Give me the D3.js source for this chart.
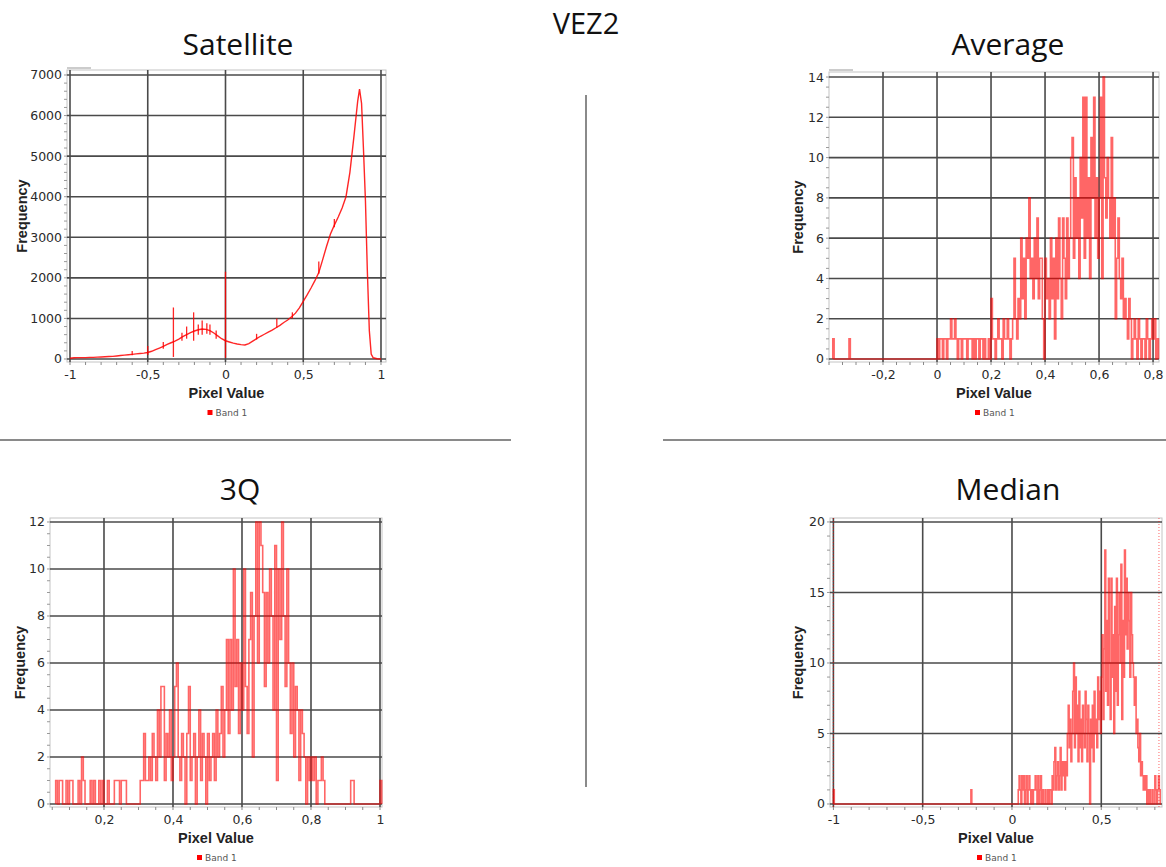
<!DOCTYPE html>
<html>
<head>
<meta charset="utf-8">
<script src="https://cdn.jsdelivr.net/npm/d3@7"></script>
<style>
  body { margin: 0; background: #fff; }
  svg { display: block; }
</style>
</head>
<body>
<svg id="chart" width="1166" height="867"></svg>
<script>
// ---------------- Satellite histogram (pixel value / frequency) ----------------
const satPixel = [
  -1.000, -0.975, -0.950, -0.925, -0.900, -0.875, -0.850, -0.825, -0.800, -0.775,
  -0.750, -0.725, -0.700, -0.675, -0.650, -0.625, -0.600, -0.575, -0.550, -0.525,
  -0.500, -0.475, -0.450, -0.425, -0.400, -0.375, -0.350, -0.325, -0.300, -0.275,
  -0.250, -0.225, -0.200, -0.175, -0.150, -0.125, -0.100, -0.075, -0.050, -0.025,
   0.000,  0.025,  0.050,  0.075,  0.100,  0.125,  0.150,  0.175,  0.200,  0.225,
   0.250,  0.275,  0.300,  0.325,  0.350,  0.375,  0.400,  0.425,  0.450,  0.475,
   0.500,  0.525,  0.550,  0.575,  0.600,  0.625,  0.650,  0.675,  0.700,  0.725,
   0.750,  0.775,  0.800,  0.825,  0.850,  0.862,  0.875,  0.887,  0.900,  0.912,
   0.925,  0.937,  0.950,  0.975,  1.000
];
const satFreq = [
    20,   30,   35,   35,   35,   40,   40,   45,   50,   55,
    60,   65,   75,   85,   95,  105,  115,  125,  135,  145,
   160,  190,  230,  270,  310,  360,  400,  440,  490,  550,
   600,  650,  690,  720,  740,  730,  700,  640,  570,  500,
   450,  420,  390,  370,  355,  345,  380,  440,  500,  560,
   610,  660,  710,  770,  830,  900,  960, 1040, 1130, 1260,
  1420, 1580, 1750, 1930, 2130, 2450, 2780, 3080, 3300, 3500,
  3720, 4000, 4600, 5450, 6350, 6650, 6300, 5200, 3900, 2200,
   700,  120,   30,    5,    0
];
// isolated spikes: pixel value, lower and upper frequency
const satSpikeX    = [-0.600, -0.500, -0.400, -0.335, -0.280, -0.250, -0.205, -0.175, -0.150, -0.120, -0.100, -0.060, 0.000, 0.200, 0.330, 0.430, 0.600, 0.700];
const satSpikeLow  = [    90,    100,    250,     50,    450,    500,    450,    600,    600,    620,    600,    500,    30,   480,   770,  1000,  2100,  3250];
const satSpikeHigh = [   200,    320,    420,   1270,    650,    800,   1150,    850,    950,    880,    850,    700,  2150,   620,  1000,  1150,  2400,  3450];
const satXTicks = [-1, -0.5, 0, 0.5, 1];
const satYTicks = [0, 1000, 2000, 3000, 4000, 5000, 6000, 7000];

// ---------------- Average ----------------
const avgStart = 0.0, avgStep = 0.005;
const avgCounts = [
  1,0,1,1,0,1,1,0,1,1,
  2,1,1,2,1,0,1,1,0,1,
  1,1,0,1,1,1,0,1,0,1,
  1,0,1,1,0,1,0,0,1,0,
  3,1,1,0,1,2,1,1,0,2,
  1,1,2,1,0,1,2,5,2,1,
  3,2,6,3,5,2,6,5,8,4,
  5,3,6,4,7,3,5,5,2,0,
  5,3,4,2,6,3,5,1,6,3,
  7,4,2,7,5,3,7,4,6,10,
  11,5,9,6,8,4,10,7,13,5,
  13,6,9,4,11,8,13,6,9,5,
  8,13,4,14,9,7,10,8,6,11,
  6,8,2,5,7,4,3,5,2,3,
  2,1,3,2,0,1,2,1,0,2,
  1,0,1,1,0,2,1,0,1,2,
  1,2,0,1
];
const avgIsolatedX = [-0.386, -0.326];
const avgIsolatedV = [1, 1];
const avgXTicks = [-0.2, 0, 0.2, 0.4, 0.6, 0.8];
const avgYTicks = [0, 2, 4, 6, 8, 10, 12, 14];

// ---------------- 3Q ----------------
const q3Start = 0.06, q3Step = 0.005;
const q3Counts = [
  1,0,1,1,0,0,1,0,1,1,
  0,0,0,1,0,2,1,0,0,0,
  1,0,1,0,0,1,0,1,0,0,
  1,0,0,0,1,1,1,0,1,1,
  1,0,0,0,0,0,0,0,0,1,
  1,3,1,1,2,1,3,2,1,4,
  2,5,5,1,3,2,4,1,2,5,
  6,2,1,3,2,0,3,5,1,2,
  3,0,2,4,1,3,2,0,3,1,
  2,3,1,4,2,3,5,2,4,7,
  3,7,4,10,5,7,3,6,4,10,
  5,3,7,9,2,8,12,6,12,11,
  9,5,9,6,10,8,4,11,1,10,
  7,12,8,5,10,6,3,6,2,5,
  4,1,4,3,2,0,2,1,2,1,
  2,0,1,1,2,1,0,0,0,0,
  0,0,0,0,0,0,0,0,0,0,
  0,1,1,0,0,0,0,0,0,0,
  0,0,0,0,0,0,0,0,1
];
const q3IsolatedX = [];
const q3IsolatedV = [];
const q3XTicks = [0.2, 0.4, 0.6, 0.8, 1];
const q3YTicks = [0, 2, 4, 6, 8, 10, 12];

// ---------------- Median ----------------
const medStart = 0.035, medStep = 0.005;
const medCounts = [
  1,2,1,0,2,1,2,0,1,2,
  0,1,2,1,0,1,0,1,1,2,
  1,0,2,0,1,2,0,1,0,0,
  1,0,0,1,0,1,1,0,2,1,
  3,4,1,2,3,1,2,4,1,3,
  2,3,1,3,2,5,7,4,6,3,
  5,8,10,4,9,5,7,3,8,4,
  6,3,7,5,4,8,6,3,7,5,
  0,6,4,7,3,8,5,6,4,9,
  6,8,5,9,12,6,11,18,8,13,
  7,16,10,6,16,9,12,5,14,8,
  16,7,12,15,10,17,6,13,9,18,
  12,16,11,15,13,9,15,12,10,9,
  7,9,5,6,4,3,5,2,3,2,
  1,2,1,2,0,1,0,1,0,0,
  1,0,0,2,1,0,1,2,1,0
];
const medIsolatedX = [-1.0, -0.23];
const medIsolatedV = [1, 1];
const medRangeMarks = [-1.0, 0.823];
const medXTicks = [-1, -0.5, 0, 0.5];
const medYTicks = [0, 5, 10, 15, 20];

// ---------------- drawing ----------------
const svg = d3.select("#chart");
const locale = d3.formatLocale({decimal: ",", thousands: "", grouping: [3], currency: ["", ""], minus: "-"});
const tickFmt = locale.format("~g");

const RED = "#ff0000";
const GRID = "#4a4a4a";
const TITLE_FONT = "'Open Sans', 'Noto Sans', sans-serif";
const LABEL_FONT = "'Liberation Sans', Arial, sans-serif";

// Build step outline points for a binned histogram.
function histPoints(start, step, counts, isoX, isoV) {
  const pts = [];
  isoX.forEach((x, i) => {
    pts.push([x, 0], [x, isoV[i]], [x + step, isoV[i]], [x + step, 0]);
  });
  pts.push([start, 0]);
  counts.forEach((v, i) => {
    const x0 = start + i * step;
    pts.push([x0, v], [x0 + step, v]);
  });
  pts.push([start + counts.length * step, 0]);
  return pts;
}

const panels = [
  {
    title: "Satellite", titleX: 238, titleY: 55,
    box: {l: 67, t: 70, r: 386, b: 362}, freqX: 22,
    xDomain: [-1.0193, 1.0322], yDomain: [-74, 7123],
    xTicks: satXTicks, yTicks: satYTicks, xMinor: 0.1, yMinor: 200,
    tab: true, kind: "line"
  },
  {
    title: "Average", titleX: 1008, titleY: 55,
    box: {l: 829, t: 72, r: 1159, b: 362}, freqX: 798,
    xDomain: [-0.4, 0.822], yDomain: [-0.149, 14.25],
    xTicks: avgXTicks, yTicks: avgYTicks, xMinor: 0.05, yMinor: 0.5,
    tab: true, kind: "hist",
    pts: histPoints(avgStart, avgStep, avgCounts, avgIsolatedX, avgIsolatedV)
  },
  {
    title: "3Q", titleX: 240, titleY: 500,
    box: {l: 50, t: 518, r: 382, b: 807}, freqX: 20,
    xDomain: [0.0435, 1.0058], yDomain: [-0.128, 12.17],
    xTicks: q3XTicks, yTicks: q3YTicks, xMinor: 0.05, yMinor: 0.5,
    tab: false, kind: "hist",
    pts: histPoints(q3Start, q3Step, q3Counts, q3IsolatedX, q3IsolatedV)
  },
  {
    title: "Median", titleX: 1008, titleY: 500,
    box: {l: 830, t: 518, r: 1162, b: 807}, freqX: 798,
    xDomain: [-1.019, 0.840], yDomain: [-0.213, 20.28],
    xTicks: medXTicks, yTicks: medYTicks, xMinor: 0.1, yMinor: 1,
    tab: false, kind: "hist", marks: medRangeMarks,
    pts: histPoints(medStart, medStep, medCounts, medIsolatedX, medIsolatedV)
  }
];

panels.forEach(p => {
  const {l, t, r, b} = p.box;
  const x = d3.scaleLinear().domain(p.xDomain).range([l, r]);
  const y = d3.scaleLinear().domain(p.yDomain).range([b, t]);
  const g = svg.append("g");

  // title
  g.append("text").attr("x", p.titleX).attr("y", p.titleY)
    .attr("text-anchor", "middle")
    .style("font-family", TITLE_FONT)
    .style("font-size", "30px").style("fill", "#111")
    .text(p.title);

  // plot frame
  g.append("rect").attr("x", l).attr("y", t).attr("width", r - l).attr("height", b - t)
    .attr("fill", "#fff").attr("stroke", "#c4c4c4").attr("stroke-width", 1);
  if (p.tab) {
    g.append("line").attr("x1", l).attr("x2", l + 24).attr("y1", t - 2).attr("y2", t - 2)
      .attr("stroke", "#999").attr("stroke-width", 1);
  }

  // minor ticks
  const xm = d3.range(Math.ceil(p.xDomain[0] / p.xMinor), Math.floor(p.xDomain[1] / p.xMinor) + 1)
    .map(k => k * p.xMinor);
  g.append("g").selectAll("line").data(xm).join("line")
    .attr("x1", d => x(d)).attr("x2", d => x(d)).attr("y1", b).attr("y2", b + 3)
    .attr("stroke", "#888").attr("stroke-width", 1);
  const ym = d3.range(Math.ceil(p.yDomain[0] / p.yMinor), Math.floor(p.yDomain[1] / p.yMinor) + 1)
    .map(k => k * p.yMinor);
  g.append("g").selectAll("line").data(ym).join("line")
    .attr("x1", l - 3).attr("x2", l).attr("y1", d => y(d)).attr("y2", d => y(d))
    .attr("stroke", "#999").attr("stroke-width", 1);

  // grid
  g.append("g").selectAll("line").data(p.xTicks).join("line")
    .attr("x1", d => x(d)).attr("x2", d => x(d)).attr("y1", t).attr("y2", b)
    .attr("stroke", GRID).attr("stroke-width", 1.6);
  g.append("g").selectAll("line").data(p.yTicks).join("line")
    .attr("x1", l).attr("x2", r).attr("y1", d => y(d)).attr("y2", d => y(d))
    .attr("stroke", GRID).attr("stroke-width", 1.6);

  // axes (labels only; grid drawn above)
  const xAxis = g.append("g").attr("transform", `translate(0,${b})`)
    .call(d3.axisBottom(x).tickValues(p.xTicks).tickFormat(tickFmt).tickSize(0).tickPadding(8));
  const yAxis = g.append("g").attr("transform", `translate(${l},0)`)
    .call(d3.axisLeft(y).tickValues(p.yTicks).tickFormat(tickFmt).tickSize(0).tickPadding(5));
  [xAxis, yAxis].forEach(a => {
    a.select(".domain").remove();
    a.selectAll("text").style("font-family", "'DejaVu Sans', sans-serif")
      .style("font-size", "12.5px").style("fill", "#2a2a2a");
  });

  // range markers
  if (p.marks) {
    g.append("g").selectAll("line").data(p.marks).join("line")
      .attr("x1", d => x(d)).attr("x2", d => x(d)).attr("y1", t).attr("y2", b)
      .attr("stroke", RED).attr("stroke-width", 1).attr("stroke-dasharray", "1,2").attr("opacity", 0.6);
  }

  // data
  if (p.kind === "line") {
    const pts = satPixel.map((v, i) => [v, satFreq[i]]);
    g.append("path").datum(pts)
      .attr("d", d3.line().x(d => x(d[0])).y(d => y(d[1])))
      .attr("fill", "none").attr("stroke", RED).attr("stroke-width", 1.4).attr("opacity", 0.85);
    g.append("g").selectAll("line").data(satSpikeX).join("line")
      .attr("x1", d => x(d)).attr("x2", d => x(d))
      .attr("y1", (d, i) => y(satSpikeLow[i])).attr("y2", (d, i) => y(satSpikeHigh[i]))
      .attr("stroke", RED).attr("stroke-width", 1.3).attr("opacity", 0.85);
  } else {
    g.append("path").datum(p.pts)
      .attr("d", d3.line().x(d => x(d[0])).y(d => y(d[1])))
      .attr("fill", "none").attr("stroke", RED).attr("stroke-width", 1.6)
      .attr("stroke-opacity", 0.6).attr("stroke-linejoin", "miter");
  }

  // axis titles
  const cx = (l + r) / 2;
  g.append("text").attr("x", cx).attr("y", b + 36).attr("text-anchor", "middle")
    .style("font-family", LABEL_FONT).style("font-weight", "bold")
    .style("font-size", "14.5px").style("fill", "#222").text("Pixel Value");
  g.append("text").attr("transform", `translate(${p.freqX},${(t + b) / 2}) rotate(-90)`)
    .attr("text-anchor", "middle").attr("dy", "0.35em")
    .style("font-family", LABEL_FONT).style("font-weight", "bold")
    .style("font-size", "14.5px").style("fill", "#222").text("Frequency");

  // legend
  g.append("rect").attr("x", cx - 19).attr("y", b + 48).attr("width", 5).attr("height", 5).attr("fill", RED);
  g.append("text").attr("x", cx - 11).attr("y", b + 53.5)
    .style("font-family", "'DejaVu Sans', sans-serif").style("font-size", "9px").style("fill", "#555")
    .text("Band 1");
});

// overall title and separators
svg.append("text").attr("x", 586).attr("y", 34).attr("text-anchor", "middle")
  .style("font-family", TITLE_FONT).style("font-size", "29px").style("fill", "#111")
  .text("VEZ2");
svg.append("line").attr("x1", 0).attr("x2", 511).attr("y1", 440).attr("y2", 440)
  .attr("stroke", "#8a8a8a").attr("stroke-width", 2);
svg.append("line").attr("x1", 663).attr("x2", 1166).attr("y1", 440).attr("y2", 440)
  .attr("stroke", "#8a8a8a").attr("stroke-width", 2);
svg.append("line").attr("x1", 586).attr("x2", 586).attr("y1", 95).attr("y2", 787)
  .attr("stroke", "#8a8a8a").attr("stroke-width", 2);
</script>
</body>
</html>
